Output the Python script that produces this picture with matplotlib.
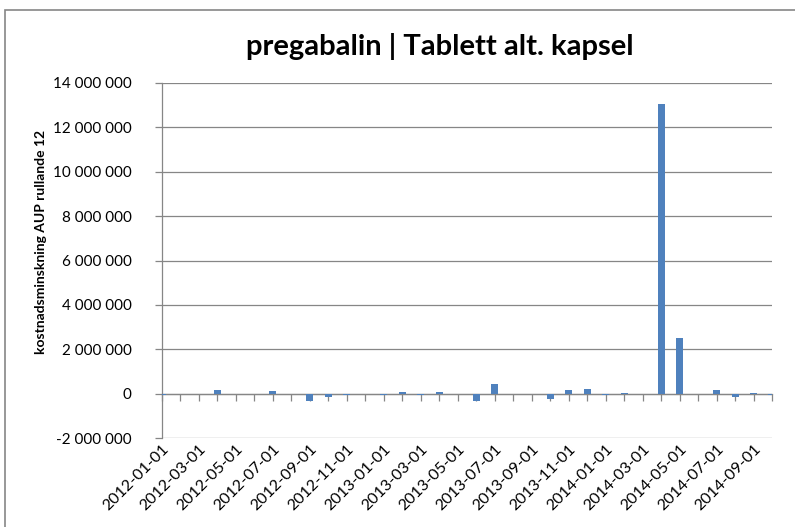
import numpy as np
import matplotlib.pyplot as plt
from matplotlib.ticker import FuncFormatter, MultipleLocator
from matplotlib.patches import Rectangle

plt.rcParams['font.family'] = ['Lato', 'DejaVu Sans']

months = ["2012-01-01", "2012-02-01", "2012-03-01", "2012-04-01", "2012-05-01", "2012-06-01",
          "2012-07-01", "2012-08-01", "2012-09-01", "2012-10-01", "2012-11-01", "2012-12-01",
          "2013-01-01", "2013-02-01", "2013-03-01", "2013-04-01", "2013-05-01", "2013-06-01",
          "2013-07-01", "2013-08-01", "2013-09-01", "2013-10-01", "2013-11-01", "2013-12-01",
          "2014-01-01", "2014-02-01", "2014-03-01", "2014-04-01", "2014-05-01", "2014-06-01",
          "2014-07-01", "2014-08-01", "2014-09-01", "2014-10-01"]
values = [-50000, 0, 0, 150000, -10000, 0,
          120000, 0, -340000, -130000, -80000, 0,
          -60000, 80000, -60000, 70000, -30000, -320000,
          450000, 0, 0, -220000, 150000, 200000,
          -50000, 50000, 0, 13050000, 2500000, -20000,
          160000, -130000, 20000, -50000]

gray = "#868686"
blue = "#4F81BD"

fig = plt.figure(figsize=(7.95, 5.27), dpi=100)
ax = fig.add_axes([162 / 795, 1 - 438 / 527, (772 - 162) / 795, (438 - 83) / 527])

x = np.arange(len(months))
ax.bar(x, values, width=0.38, color=blue, zorder=5)

ax.set_xlim(0, len(months) - 1)
ax.set_ylim(-2000000, 14000000)
ax.yaxis.set_major_locator(MultipleLocator(2000000))
ax.yaxis.set_major_formatter(FuncFormatter(lambda v, p: f"{v:,.0f}".replace(",", " ")))
ax.grid(axis="y", color=gray, linewidth=0.9, zorder=0)
ax.tick_params(axis="y", colors=gray, length=5, width=0.9, labelcolor="black", labelsize=11, pad=17)
for lbl in ax.get_yticklabels():
    lbl.set_horizontalalignment("right")

# category axis crosses at zero, labels sit below the plot
for s in ["top", "right"]:
    ax.spines[s].set_visible(False)
ax.spines["left"].set_color(gray)
ax.spines["left"].set_linewidth(0.9)
ax.spines["bottom"].set_position(("data", 0))
ax.spines["bottom"].set_color(gray)
ax.spines["bottom"].set_linewidth(0.9)
ax.spines["bottom"].set_zorder(4)
ax.set_xticks(x)
ax.tick_params(axis="x", colors=gray, length=5, width=0.9, labelbottom=False)

sec = ax.secondary_xaxis("bottom")
sec.set_xticks(x[::2])
sec.set_xticklabels(months[::2], rotation=45, ha="right", rotation_mode="anchor", fontsize=11.5)
sec.tick_params(length=0, pad=3)
sec.spines["bottom"].set_visible(False)

fig.text(440 / 795, 1 - 47 / 527, "pregabalin | Tablett alt. kapsel", ha="center", va="center",
         fontsize=21, fontweight="bold")
fig.text(41 / 795, 1 - 242 / 527, "kostnadsminskning AUP rullande 12", ha="center", va="center",
         rotation=90, fontsize=10, fontweight="bold")

fig.patches.append(Rectangle((5 / 795, -0.1), 1.1, 1 - 10 / 527 + 0.1, transform=fig.transFigure,
                             fill=False, edgecolor=gray, linewidth=1.2))

plt.savefig("out.png", dpi=100)
